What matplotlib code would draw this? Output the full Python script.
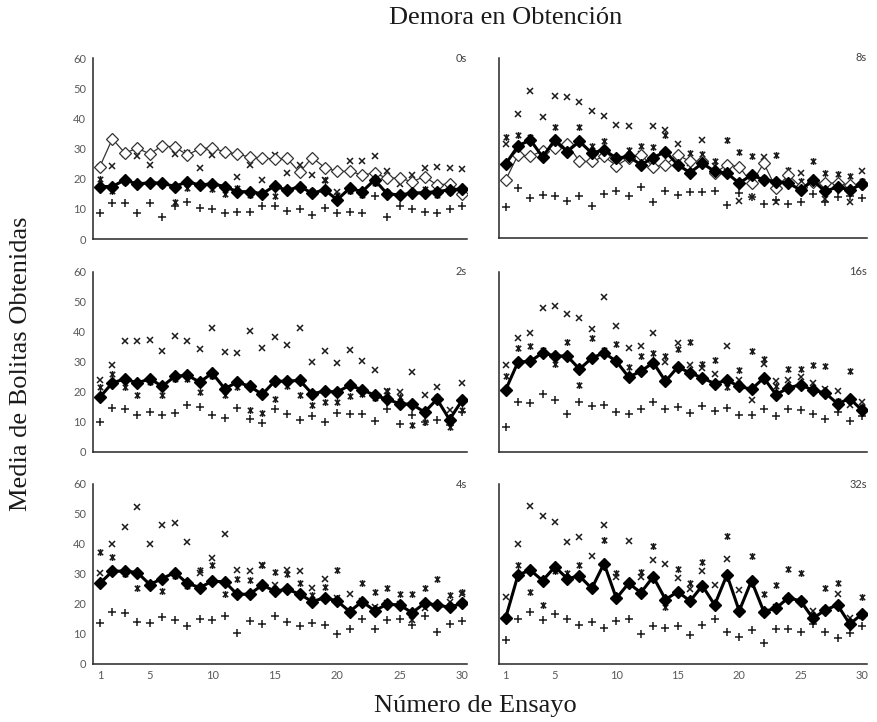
import numpy as np
import matplotlib.pyplot as plt
from matplotlib.path import Path

# Ensayos 1..30
trials = list(range(1, 31))

# 0s
mean_0s = [17.4, 17.4, 19.6, 18.2, 18.7, 18.5, 17.4, 19.0, 17.9, 18.3, 17.4, 15.7, 15.7, 15.0, 17.6,
           16.1, 17.4, 15.2, 16.3, 13.0, 16.8, 15.7, 19.6, 15.0, 14.6, 15.2, 15.4, 15.7, 16.3, 16.6]
open_0s = [24.0, 33.2, 28.5, 30.1, 28.2, 30.9, 30.5, 27.9, 29.9, 30.3, 28.8, 28.2, 27.1, 26.9, 26.5,
           26.7, 22.1, 27.0, 23.7, 22.4, 22.4, 21.3, 21.8, 20.2, 20.2, 19.0, 20.7, 17.9, 18.3, 15.0]
cross_0s = [24.0, 24.3, 28.2, 27.4, 24.6, 30.9, 28.2, 28.5, 23.7, 27.9, 28.5, 20.5, 24.6, 19.4, 27.7,
            21.8, 24.4, 21.3, 19.6, 15.7, 25.7, 25.7, 27.4, 22.4, 18.3, 21.3, 23.7, 24.0, 23.7, 23.3]
ast_0s = [19.8, 16.0, 19.0, 18.0, 18.5, 18.0, 12.4, 17.0, 17.5, 16.5, 15.0, 17.0, 14.5, 15.0, 14.3,
          16.5, 16.5, 16.0, 19.6, 14.5, 16.0, 14.5, 18.5, 15.5, 15.0, 15.5, 16.5, 14.5, 15.5, 16.0]
plus_0s = [8.7, 11.8, 11.8, 8.7, 11.8, 7.4, 11.1, 12.4, 10.4, 9.9, 8.5, 9.1, 9.1, 11.0, 11.0,
           9.4, 9.9, 7.8, 10.4, 8.7, 9.1, 8.5, 14.1, 7.4, 11.1, 9.9, 9.1, 8.7, 9.9, 11.1]

# 8s
mean_8s = [24.7, 30.7, 32.7, 27.0, 32.7, 28.8, 32.2, 28.3, 29.4, 26.6, 27.2, 24.4, 26.8, 28.8, 24.4,
           21.8, 24.9, 22.2, 21.6, 18.3, 21.0, 19.4, 18.8, 18.3, 16.0, 19.2, 15.5, 17.1, 16.0, 18.0]
open_8s = [19.4, 27.7, 27.2, 29.1, 30.0, 31.3, 25.5, 25.5, 27.2, 24.1, 26.6, 27.7, 23.8, 24.4, 27.7,
           25.5, 25.5, 21.6, 24.4, 23.8, 18.3, 24.9, 16.6, 21.0, 17.1, 18.8, 18.3, 18.3, 17.7, 18.0]
cross_8s = [31.3, 41.4, 49.1, 40.3, 47.2, 46.9, 45.2, 42.4, 40.8, 37.6, 37.4, 28.0, 37.2, 35.9, 31.4,
            25.0, 32.5, 24.0, 22.0, 12.2, 13.8, 26.9, 11.9, 21.0, 21.8, 19.0, 13.0, 18.0, 11.9, 22.4]
ast_8s = [33.8, 34.2, 33.5, 28.0, 36.9, 29.0, 36.9, 30.7, 32.4, 27.0, 29.4, 30.5, 30.2, 34.4, 27.0,
          28.3, 28.0, 25.8, 32.5, 28.5, 27.2, 20.0, 27.5, 22.5, 19.0, 25.8, 21.6, 21.3, 20.7, 19.0]
plus_8s = [10.2, 16.8, 13.3, 14.4, 14.1, 12.2, 14.1, 10.8, 14.7, 15.7, 14.0, 16.9, 12.1, 15.8, 14.4,
           15.3, 15.3, 15.8, 11.1, 15.1, 13.6, 11.4, 12.5, 11.4, 12.0, 14.6, 12.1, 13.8, 14.0, 13.3]

# 2s
mean_2s = [18.3, 23.0, 24.4, 23.0, 24.4, 21.9, 25.2, 25.6, 23.3, 26.3, 21.1, 23.3, 21.9, 19.2, 23.6,
           23.6, 23.9, 19.4, 20.3, 20.0, 22.2, 20.8, 18.9, 17.6, 16.1, 15.9, 13.3, 17.6, 10.8, 17.2]
cross_2s = [23.9, 28.9, 36.9, 37.0, 37.2, 33.6, 38.8, 37.0, 34.4, 41.4, 33.3, 33.1, 40.2, 34.7, 38.3,
            35.6, 41.4, 30.0, 33.7, 29.7, 34.1, 30.3, 27.2, 20.5, 20.0, 26.7, 18.9, 21.7, 13.9, 23.1]
ast_2s = [21.7, 26.1, 21.7, 19.1, 23.5, 19.1, 24.5, 24.5, 20.0, 25.5, 18.9, 21.7, 13.9, 13.1, 17.8,
          22.0, 19.1, 15.8, 16.7, 16.7, 18.6, 19.5, 18.0, 20.2, 18.3, 8.9, 10.0, 18.5, 8.3, 13.9]
plus_2s = [10.0, 14.7, 14.4, 12.4, 13.2, 12.4, 13.0, 15.8, 15.0, 12.2, 11.4, 14.8, 11.1, 9.8, 14.2,
           12.8, 10.8, 12.0, 10.0, 13.1, 12.8, 12.6, 10.3, 14.2, 9.4, 12.2, 10.0, 10.6, 8.9, 13.3]

# 16s
mean_16s = [20.8, 30.0, 30.2, 33.1, 32.0, 32.0, 27.6, 31.3, 33.1, 30.2, 25.0, 26.9, 29.8, 23.6, 28.3,
            26.4, 24.7, 22.8, 23.9, 21.9, 20.9, 24.7, 19.1, 21.4, 22.4, 20.6, 19.7, 16.1, 17.8, 13.9]
cross_16s = [28.9, 38.1, 39.8, 48.0, 48.7, 46.1, 44.8, 41.1, 51.7, 41.9, 34.7, 35.3, 39.8, 30.0, 36.4,
             28.9, 28.0, 26.0, 35.3, 24.0, 17.2, 29.4, 23.6, 24.0, 25.0, 23.0, 21.0, 20.2, 15.8, 16.7]
ast_16s = [25.3, 34.8, 35.3, 34.0, 29.4, 36.7, 22.2, 38.0, 34.0, 35.9, 28.3, 32.0, 33.1, 32.0, 34.2,
           36.7, 29.4, 30.6, 21.7, 27.2, 33.7, 30.9, 22.0, 27.8, 27.6, 29.1, 28.7, 17.0, 26.9, 15.0]
plus_16s = [8.3, 16.7, 16.3, 19.4, 17.4, 12.6, 16.7, 15.3, 15.6, 13.3, 12.6, 14.2, 16.7, 14.2, 15.0,
            13.1, 15.2, 13.7, 14.8, 12.4, 12.2, 14.4, 11.9, 14.2, 13.9, 12.8, 11.1, 13.3, 10.3, 11.9]

# 4s
mean_4s = [26.9, 30.9, 31.0, 30.5, 26.5, 28.5, 30.5, 26.9, 25.5, 27.6, 27.4, 23.2, 23.3, 26.3, 24.3,
           24.9, 23.3, 20.8, 22.1, 21.0, 17.5, 20.8, 17.8, 19.9, 19.7, 17.1, 20.2, 19.7, 18.9, 20.2]
cross_4s = [30.5, 40.1, 45.6, 52.5, 40.1, 46.2, 47.0, 40.7, 30.5, 35.4, 43.2, 31.5, 30.9, 33.1, 26.5,
            31.2, 30.9, 25.2, 28.2, 22.0, 23.2, 21.0, 19.0, 20.5, 20.0, 14.7, 18.6, 19.5, 20.8, 23.2]
ast_4s = [37.3, 35.7, 30.0, 25.4, 26.0, 24.3, 29.5, 26.0, 31.5, 33.1, 23.5, 28.5, 28.0, 32.9, 30.7,
          29.9, 26.9, 23.0, 25.7, 31.5, 17.0, 26.9, 23.9, 25.2, 23.4, 23.2, 25.4, 28.5, 23.0, 24.1]
plus_4s = [13.8, 17.5, 17.1, 14.1, 13.8, 15.6, 14.7, 12.7, 15.0, 14.7, 16.1, 10.3, 14.5, 13.3, 16.1,
           14.1, 12.7, 13.8, 13.0, 10.1, 11.6, 15.0, 11.6, 14.7, 14.9, 13.0, 16.0, 10.8, 13.3, 14.5]

# 32s
mean_32s = [15.5, 29.7, 31.3, 27.8, 32.4, 28.5, 29.3, 25.2, 33.5, 21.9, 26.9, 23.8, 29.1, 21.5, 24.1,
            21.0, 26.1, 19.7, 29.7, 17.7, 27.7, 17.5, 18.6, 22.1, 21.0, 15.2, 18.0, 19.7, 13.3, 16.7]
cross_32s = [22.4, 40.0, 52.7, 49.4, 47.4, 40.6, 42.5, 35.9, 46.4, 29.0, 40.9, 29.0, 34.8, 33.2, 28.8,
             25.0, 31.0, 26.4, 35.1, 24.6, 27.0, 17.0, 19.0, 22.0, 21.0, 17.7, 18.0, 23.2, 15.5, 16.0]
ast_32s = [16.0, 33.0, 24.0, 19.6, 31.0, 30.4, 33.0, 26.0, 41.4, 30.4, 27.5, 30.7, 39.3, 19.1, 31.6,
           26.9, 34.0, 20.0, 42.7, 18.0, 35.9, 23.2, 26.3, 31.6, 30.2, 16.0, 25.4, 26.9, 14.0, 22.2]
plus_32s = [8.1, 15.0, 17.5, 14.7, 16.6, 14.9, 13.0, 13.9, 12.1, 14.5, 14.9, 10.0, 12.8, 12.1, 12.7,
            9.7, 13.0, 14.9, 10.6, 8.9, 11.4, 6.9, 11.6, 11.6, 10.8, 13.3, 10.8, 8.6, 10.3, 12.7]

# marcador asterisco estilo Excel (x + barra vertical)
ast_marker = Path([(-1, -1), (1, 1), (-1, 1), (1, -1), (0, -1.3), (0, 1.3)],
                  [Path.MOVETO, Path.LINETO, Path.MOVETO, Path.LINETO, Path.MOVETO, Path.LINETO])

fig = plt.figure(figsize=(8.77, 7.22), dpi=100)

W, H = 877, 722
def add_ax(left, top, right, bottom):
    return fig.add_axes([left / W, 1 - bottom / H, (right - left) / W, (bottom - top) / H])

gray = '#595959'
ink = '#1a1a1a'

def panel(ax, label, mean, cross, ast, plus, open_=None, yticks=True, xticks=False):
    ax.plot(trials, cross, linestyle='none', marker='x', ms=4.5, mew=1.1, color=ink, zorder=2)
    ax.plot(trials, ast, linestyle='none', marker=ast_marker, ms=5, mew=1.1, mfc='none', color=ink, zorder=2)
    ax.plot(trials, plus, linestyle='none', marker='+', ms=5.5, mew=1.1, color=ink, zorder=2)
    if open_ is not None:
        ax.plot(trials, open_, color='#333333', lw=0.9, marker='D', ms=6.5, mfc='white',
                mec='#333333', mew=0.9, zorder=3)
    ax.plot(trials, mean, color='black', lw=2.2, marker='D', ms=6.5, mfc='black', mec='black', zorder=4)

    ax.set_xlim(0.45, 30.4)
    ax.set_ylim(0, 60)
    for s in ['top', 'right']:
        ax.spines[s].set_visible(False)
    for s in ['left', 'bottom']:
        ax.spines[s].set_color('#262626')
        ax.spines[s].set_linewidth(1.1)
    ax.set_yticks([0, 10, 20, 30, 40, 50, 60])
    ax.set_xticks([1, 5, 10, 15, 20, 25, 30])
    ax.tick_params(length=0, labelsize=8, labelcolor=gray, pad=4)
    ax.tick_params(axis='y', pad=5)
    if not yticks:
        ax.set_yticklabels([])
    if not xticks:
        ax.set_xticklabels([])
    for t in ax.get_xticklabels() + ax.get_yticklabels():
        t.set_fontfamily('Lato')
    ax.text(1.0, 1.0, label, transform=ax.transAxes, ha='right', va='center',
            fontsize=8, color='#404040', family='Lato')

ax1 = add_ax(93, 58, 467, 239)
ax2 = add_ax(499, 58, 867, 238)
ax3 = add_ax(93, 272, 467, 452)
ax4 = add_ax(499, 272, 867, 452)
ax5 = add_ax(93, 484, 467, 664)
ax6 = add_ax(499, 484, 867, 664)

panel(ax1, '0s', mean_0s, cross_0s, ast_0s, plus_0s, open_0s)
panel(ax2, '8s', mean_8s, cross_8s, ast_8s, plus_8s, open_8s, yticks=False)
panel(ax3, '2s', mean_2s, cross_2s, ast_2s, plus_2s)
panel(ax4, '16s', mean_16s, cross_16s, ast_16s, plus_16s, yticks=False)
panel(ax5, '4s', mean_4s, cross_4s, ast_4s, plus_4s, xticks=True)
panel(ax6, '32s', mean_32s, cross_32s, ast_32s, plus_32s, yticks=False, xticks=True)

serif = 'Liberation Serif'
fig.text(506 / W, 1 - 18 / H, 'Demora en Obtención', ha='center', va='center',
         fontsize=19, family=serif, color='#1a1a1a')
fig.text(475 / W, 1 - 706 / H, 'Número de Ensayo', ha='center', va='center',
         fontsize=19, family=serif, color='#1a1a1a')
fig.text(21 / W, 1 - 364 / H, 'Media de Bolitas Obtenidas', ha='center', va='center',
         rotation=90, fontsize=19, family=serif, color='#1a1a1a')

fig.savefig('out.png', dpi=100)
